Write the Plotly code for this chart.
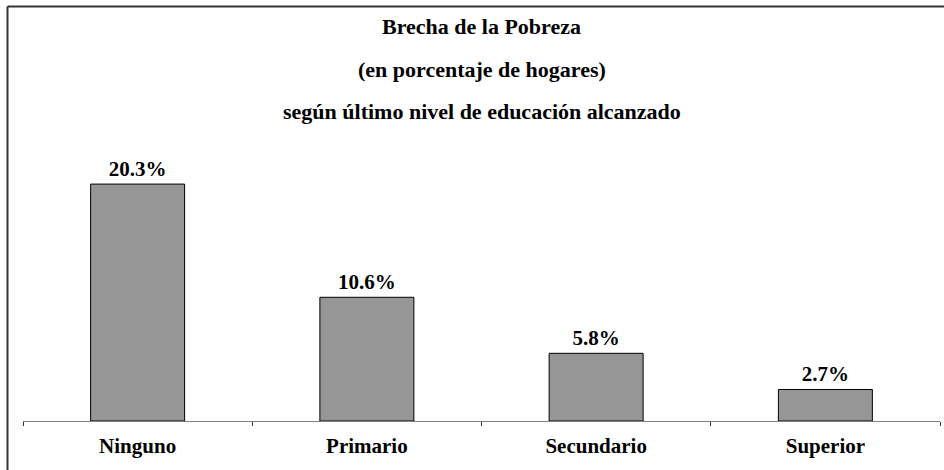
import plotly.graph_objects as go

categories = ["Ninguno", "Primario", "Secundario", "Superior"]
values = [20.3, 10.6, 5.8, 2.7]
value_labels = ["20.3%", "10.6%", "5.8%", "2.7%"]
title_lines = [
    "Brecha de la Pobreza",
    "(en porcentaje de hogares)",
    "según último nivel de educación alcanzado",
]

W, H = 944, 470
L, R, T, B = 23, 4, 150, 49
plot_h = H - T - B
plot_w = W - L - R
ymax = 23.22

def px_to_paper_y(py):
    return (H - B - py) / plot_h

def px_to_paper_x(px):
    return (px - L) / plot_w

font_family = "Liberation Serif, Times New Roman, serif"
FS = 21
FS_TITLE = 22

fig = go.Figure()
fig.add_trace(go.Bar(
    x=categories,
    y=values,
    text=value_labels,
    textposition="outside",
    textfont=dict(family=font_family, size=FS, color="black", weight="bold"),
    marker=dict(color="#969696", line=dict(color="black", width=1)),
    cliponaxis=False,
    width=0.41,
))

annotations = []
for i, line in enumerate(title_lines):
    annotations.append(dict(
        text=line, x=0.5, xref="paper", xanchor="center",
        y=px_to_paper_y(26 + 43 * i), yref="paper", yanchor="middle",
        showarrow=False,
        font=dict(family=font_family, size=FS_TITLE, color="black", weight="bold"),
    ))

bx = px_to_paper_x(7.5)
by = px_to_paper_y(6.5)
shapes = [
    dict(type="line", xref="paper", yref="paper", x0=bx, x1=1.1, y0=by, y1=by,
         line=dict(color="#333333", width=2)),
    dict(type="line", xref="paper", yref="paper", x0=bx, x1=bx, y0=by, y1=-0.3,
         line=dict(color="#333333", width=2)),
]

fig.update_layout(
    width=W, height=H,
    margin=dict(l=L, r=R, t=T, b=B),
    paper_bgcolor="white", plot_bgcolor="white",
    showlegend=False,
    annotations=annotations,
    shapes=shapes,
    xaxis=dict(
        type="category",
        range=[-0.5, 3.5],
        showline=True, linecolor="#808080", linewidth=1,
        ticks="outside", tickson="boundaries", ticklen=4, tickcolor="#333333",
        ticklabelstandoff=6,
        tickfont=dict(family=font_family, size=FS, color="black", weight="bold"),
        showgrid=False, zeroline=False,
    ),
    yaxis=dict(
        range=[0, ymax], visible=False, showgrid=False, zeroline=False,
    ),
)

fig.write_html(
    "out.html",
    config={"displayModeBar": False},
    post_script="document.body.style.margin='0';document.body.style.overflow='hidden';",
)
